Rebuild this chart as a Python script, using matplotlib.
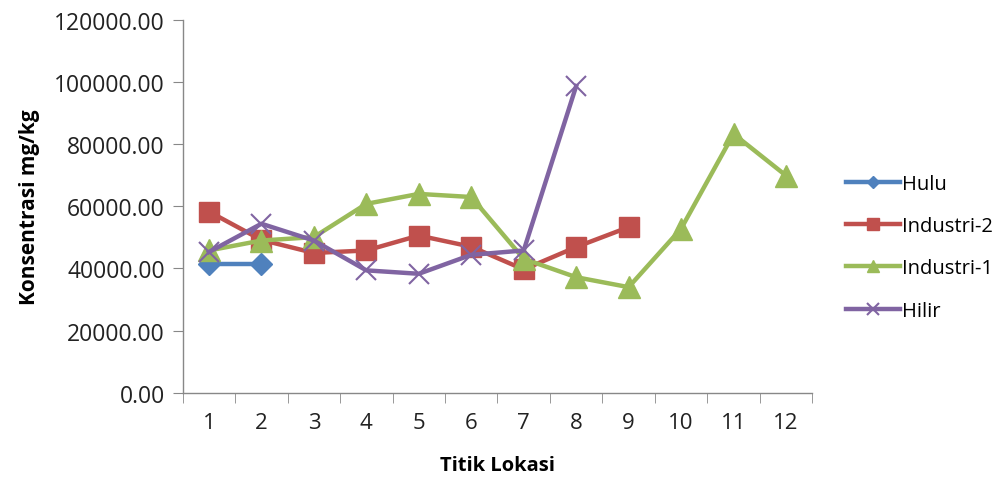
import matplotlib
matplotlib.use("Agg")
import matplotlib.pyplot as plt
from matplotlib.ticker import FuncFormatter, FixedLocator

categories = [1, 2, 3, 4, 5, 6, 7, 8, 9, 10, 11, 12]
hulu = [41500, 41500]
industri2 = [58300, 49200, 45000, 45800, 50600, 47000, 39700, 46900, 53300]
industri1 = [45800, 49000, 50100, 60800, 64000, 63000, 43100, 37200, 34000, 52800, 83300, 69900]
hilir = [45300, 54400, 49000, 39400, 38300, 44400, 45800, 98700]

plt.rcParams['font.family'] = ['Open Sans', 'DejaVu Sans']

fig = plt.figure(figsize=(10.04, 4.85), dpi=100)
ax = fig.add_axes([0.182, 0.188, 0.627, 0.769])

ax.plot(categories[:len(hulu)], hulu, color='#4F81BD', lw=3.2, marker='D', ms=11, label='Hulu')
ax.plot(categories[:len(industri2)], industri2, color='#C0504D', lw=3.2, marker='s', ms=15, label='Industri-2')
ax.plot(categories[:len(industri1)], industri1, color='#9BBB59', lw=3.2, marker='^', ms=16, label='Industri-1')
ax.plot(categories[:len(hilir)], hilir, color='#8064A2', lw=3.2, marker='x', ms=15, mew=1.5, label='Hilir')

ax.set_xlim(0.5, 12.5)
ax.set_ylim(0, 120000)
ax.set_yticks(range(0, 120001, 20000))
ax.yaxis.set_major_formatter(FuncFormatter(lambda v, p: f"{v:.2f}"))
ax.set_xticks(categories)
ax.set_xticklabels([str(c) for c in categories])
ax.xaxis.set_minor_locator(FixedLocator([c - 0.5 for c in categories] + [12.5]))
ax.tick_params(axis='x', which='major', length=0, labelsize=16, pad=14, colors='#222222')
ax.tick_params(axis='x', which='minor', length=7, color='#888888')
ax.tick_params(axis='y', length=7, color='#888888', labelsize=16.5, labelcolor='#222222', pad=6)

for s in ['top', 'right']:
    ax.spines[s].set_visible(False)
for s in ['left', 'bottom']:
    ax.spines[s].set_color('#888888')
    ax.spines[s].set_linewidth(1)

ax.set_xlabel('Titik Lokasi', fontsize=14.5, fontweight='bold', labelpad=16)
ax.set_ylabel('Konsentrasi mg/kg', fontsize=15, fontweight='bold', labelpad=10)

leg = ax.legend(loc='center left', bbox_to_anchor=(1.025, 0.39), frameon=False,
                fontsize=14.5, handlelength=2.7, labelspacing=1.1, handletextpad=0.1,
                markerscale=0.55)

fig.savefig('out.png', dpi=100)
